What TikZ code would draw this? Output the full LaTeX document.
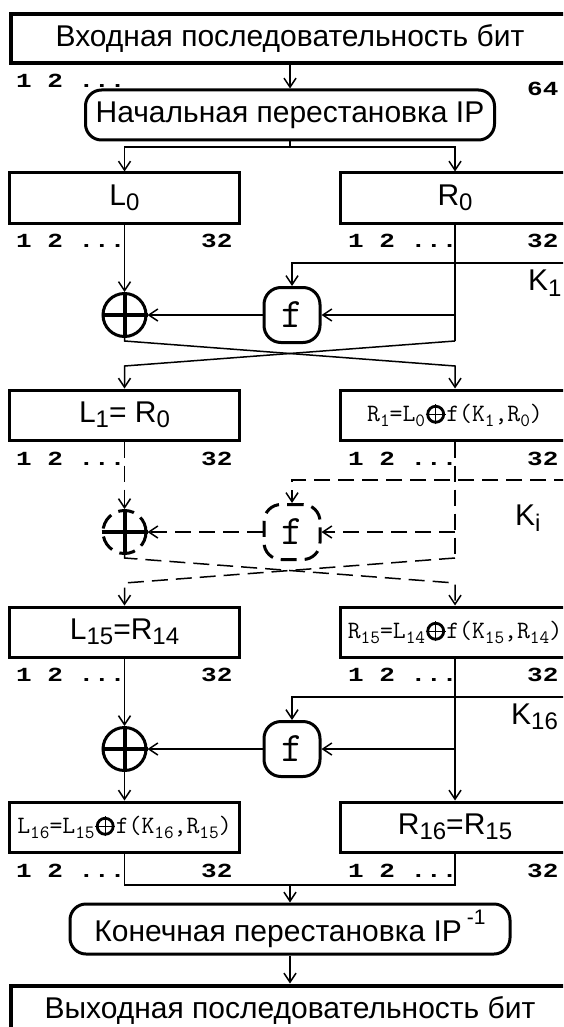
\documentclass[tikz,border=0pt]{standalone}
\usepackage{graphicx}
\usepackage{fontspec}
\setmainfont{Liberation Sans}
\setmonofont{Latin Modern Mono}
\newfontfamily\lblfont{Liberation Mono}[FakeStretch=1.3]
\usetikzlibrary{arrows.meta}

\newcommand\lsub[1]{\raisebox{-0.35ex}{\scalebox{0.8}{#1}}}
\newcommand\eqsub[1]{\raisebox{-0.4ex}{\scalebox{0.75}{#1}}}
\newcommand\xorsym{\tikz[baseline=-0.7ex]{\draw[line width=2.8pt] (0,0) circle (8pt);
  \draw[line width=1.2pt] (-10pt,0) -- (10pt,0) (0,-10pt) -- (0,10pt);}}

\tikzset{
  boxfont/.style={font=\fontsize{30}{34}\selectfont},
  eqfont/.style={font=\ttfamily\fontsize{25}{28}\selectfont},
  bitbox/.style={draw, line width=4pt, minimum width=558pt, minimum height=49pt, inner sep=0pt, boxfont},
  halfbox/.style={draw, line width=3pt, minimum width=230pt, minimum height=50pt, inner sep=0pt, boxfont},
  permbox/.style={draw, line width=3pt, rounded corners=16pt, minimum height=50pt, inner sep=0pt, boxfont},
  funcbox/.style={draw, line width=3pt, rounded corners=17pt, minimum width=56pt, minimum height=55pt,
    inner sep=0pt, font=\ttfamily\fontsize{42}{44}\selectfont},
  xorcirc/.style={draw, circle, line width=3pt, minimum size=43pt, inner sep=0pt},
  xorplus/.style={line width=4pt},
  bitlbl/.style={font=\lblfont\bfseries\fontsize{20}{22}\selectfont, inner sep=0pt, anchor=west},
  keylbl/.style={boxfont, inner sep=0pt, anchor=west},
  link/.style={line width=1.5pt},
  arr/.style={link, -{Straight Barb[length=9pt,width=12pt,line width=1.5pt]}},
  round dash/.style={dash pattern=on 16pt off 8pt},
}

\begin{document}
\begin{tikzpicture}[x=1pt,y=-1pt]
  \useasboundingbox (0,0) rectangle (563,1027);
  \clip (0,0) rectangle (563,1027);

  % input and initial permutation
  \node[bitbox] (inbits) at (290,38.5) {Входная последовательность бит};
  \node[bitlbl] (in1) at (16,81) {1 2 ...};
  \node[bitlbl] (in64) at (527,89) {64};
  \node[permbox, minimum width=409pt] (ip) at (290,115) {Начальная перестановка IP};
  \coordinate (split) at (290,147);
  \draw[arr] (inbits) -- (ip);
  \draw[link] (ip) -- (split);

  % round 1
  \node[halfbox] (l0) at (124.5,198) {L\lsub{0}};
  \node[halfbox] (r0) at (455,198) {R\lsub{0}};
  \draw[arr] (split) -| (l0);
  \draw[arr] (split) -| (r0);
  \coordinate (k1) at (570,263);
  \node[funcbox] (f1) at (292,315) {f};
  \node[xorcirc] (x1) at (124.5,315) {};
  \draw[xorplus] (x1.north) -- (x1.south) (x1.west) -- (x1.east);
  \node[keylbl] (k1lbl) at (528,283) {K\lsub{1}};
  \coordinate (r0tap) at (455,315);
  \coordinate (c1a) at (124.5,341);
  \coordinate (c1b) at (455,341);
  \coordinate (c1c) at (124.5,366);
  \coordinate (c1d) at (455,366);
  \draw[arr] (l0) -- (x1);
  \draw[arr] (k1) -| (f1);
  \draw[link] (r0) -- (c1b);
  \draw[arr] (r0tap) -- (f1);
  \draw[arr] (f1) -- (x1);

  % rounds 2..15 (dashed)
  \node[halfbox] (l1) at (124.5,415) {L\lsub{1}= R\lsub{0}};
  \node[halfbox, eqfont] (r1) at (455,415) {R\eqsub{1}=L\eqsub{0}\xorsym f(K\eqsub{1},R\eqsub{0})};
  \draw[arr] (x1) -- (c1a) -- (c1d) -- (r1);
  \draw[arr] (c1b) -- (c1c) -- (l1);
  \coordinate (ki) at (570,480);
  \node[funcbox, round dash] (fi) at (292,532) {f};
  \node[xorcirc, round dash] (xi) at (124.5,532) {};
  \draw[xorplus] (xi.north) -- (xi.south) (xi.west) -- (xi.east);
  \node[keylbl] (kilbl) at (515,518) {K\lsub{i}};
  \coordinate (r1tap) at (455,532);
  \coordinate (cia) at (124.5,558);
  \coordinate (cib) at (455,558);
  \coordinate (cic) at (124.5,583);
  \coordinate (cid) at (455,583);
  \draw[arr, round dash] (l1) -- (xi);
  \draw[arr, round dash] (ki) -| (fi);
  \draw[link, round dash] (r1) -- (cib);
  \draw[arr, round dash] (r1tap) -- (fi);
  \draw[arr, round dash] (fi) -- (xi);

  % round 16
  \node[halfbox] (l15) at (124.5,632) {L\lsub{15}=R\lsub{14}};
  \node[halfbox, eqfont] (r15) at (455,632) {R\eqsub{15}=L\eqsub{14}\xorsym f(K\eqsub{15},R\eqsub{14})\hspace{12pt}};
  \draw[arr, round dash] (xi) -- (cia) -- (cid) -- (r15);
  \draw[arr, round dash] (cib) -- (cic) -- (l15);
  \coordinate (k16) at (570,697);
  \node[funcbox] (f16) at (292,749) {f};
  \node[xorcirc] (x16) at (124.5,749) {};
  \draw[xorplus] (x16.north) -- (x16.south) (x16.west) -- (x16.east);
  \node[keylbl] (k16lbl) at (511,717) {K\lsub{16}};
  \coordinate (r15tap) at (455,749);
  \draw[arr] (l15) -- (x16);
  \draw[arr] (k16) -| (f16);
  \draw[arr] (r15tap) -- (f16);
  \draw[arr] (f16) -- (x16);

  % output halves, final permutation
  \node[halfbox, eqfont] (l16) at (124.5,827) {L\eqsub{16}=L\eqsub{15}\xorsym f(K\eqsub{16},R\eqsub{15})};
  \node[halfbox] (r16) at (455,827) {R\lsub{16}=R\lsub{15}};
  \draw[arr] (x16) -- (l16);
  \draw[arr] (r15) -- (r16);
  \foreach \y [count=\i] in {241,459,675,871} {
    \node[bitlbl] (la\i) at (16,\y) {1 2 ...};
    \node[bitlbl] (lb\i) at (201,\y) {32};
    \node[bitlbl] (ra\i) at (348,\y) {1 2 ...};
    \node[bitlbl] (rb\i) at (527,\y) {32};
  }
  \coordinate (join) at (290,885);
  \node[permbox, minimum width=440pt] (fp) at (290,929) {Конечная перестановка IP\,\raisebox{1.1ex}{\scalebox{0.7}{-1}}};
  \node[bitbox] (outbits) at (290,1010) {Выходная последовательность бит};
  \draw[link] (l16) |- (join) -| (r16);
  \draw[arr] (join) -- (fp);
  \draw[arr] (fp) -- (outbits);
\end{tikzpicture}
\end{document}
